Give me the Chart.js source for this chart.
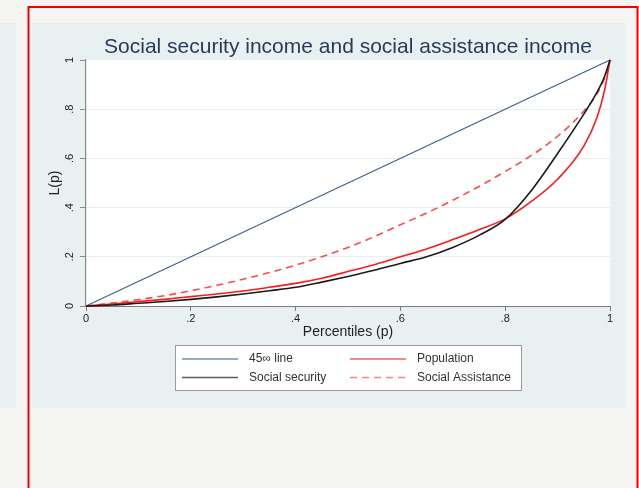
<!DOCTYPE html>
<html>
<head>
<meta charset="utf-8">
<title>Social security income and social assistance income</title>
<script src="https://cdn.jsdelivr.net/npm/chart.js@4.4.1/dist/chart.umd.min.js"></script>
<style>
    html, body {
        margin: 0;
        padding: 0;
        background: #f5f5f4;
    }
    canvas {
        display: block;
    }
</style>
</head>
<body>
<canvas id="lorenzChart" width="639" height="488"></canvas>
<script>
// Lorenz curves, L(p) read at each percentile p
const percentiles = [0, 0.05, 0.1, 0.15, 0.2, 0.25, 0.3, 0.35, 0.4, 0.45, 0.5, 0.55, 0.6, 0.65, 0.7, 0.75, 0.8, 0.85, 0.9, 0.95, 0.975, 0.99, 1];
const population = [0, 0.008, 0.018, 0.027, 0.038, 0.049, 0.061, 0.076, 0.092, 0.113, 0.14, 0.168, 0.2, 0.232, 0.27, 0.31, 0.354, 0.425, 0.515, 0.65, 0.765, 0.88, 1];
const socialSecurity = [0, 0.004, 0.011, 0.018, 0.027, 0.037, 0.049, 0.062, 0.076, 0.097, 0.12, 0.145, 0.173, 0.2, 0.238, 0.287, 0.352, 0.47, 0.62, 0.78, 0.868, 0.935, 1];
const socialAssistance = [0, 0.012, 0.026, 0.042, 0.062, 0.084, 0.109, 0.136, 0.166, 0.2, 0.238, 0.282, 0.33, 0.378, 0.43, 0.486, 0.547, 0.612, 0.69, 0.792, 0.862, 0.93, 1];

// 45 degree line of perfect equality
const equalityP = [0, 1];
const equalityL = [0, 1];

const tickValues = [0, 0.2, 0.4, 0.6, 0.8, 1];
const legendLabels = ['45∞ line', 'Population', 'Social security', 'Social Assistance'];

const chartTitle = 'Social security income and social assistance income';
const xTitle = 'Percentiles (p)';
const yTitle = 'L(p)';

const FONT = "'Liberation Sans', Arial, sans-serif";
const PANEL = '#e9f0f2';

Chart.defaults.font.family = FONT;
Chart.defaults.color = '#222';

function toPoints(xs, ys) {
    return xs.map((x, i) => ({ x, y: ys[i] }));
}

// Stata style tick label: 0 .2 .4 .6 .8 1
function stataLabel(value) {
    const v = Number(value.toFixed(1));
    return String(v).replace(/^0\./, '.');
}

const pagePlugin = {
    id: 'page',
    beforeDraw(chart) {
        const { ctx, chartArea } = chart;
        ctx.save();
        ctx.fillStyle = '#f5f5f4';
        ctx.fillRect(0, 0, chart.width, chart.height);

        // neighbouring graph panel cut off at the left
        ctx.fillStyle = PANEL;
        ctx.fillRect(0, 23, 16, 385);

        // graph region and white plot region
        ctx.fillStyle = PANEL;
        ctx.fillRect(32, 23, 594, 385);
        ctx.fillStyle = '#ffffff';
        ctx.fillRect(chartArea.left, chartArea.top, chartArea.right - chartArea.left, chartArea.bottom - chartArea.top);

        // red frame
        ctx.strokeStyle = '#f20000';
        ctx.lineWidth = 2;
        ctx.strokeRect(28.5, 7, 609, 490);
        ctx.restore();
    },
    afterDraw(chart) {
        const { ctx, chartArea, scales } = chart;
        ctx.save();

        // title
        ctx.fillStyle = '#2b3958';
        ctx.font = '21px ' + FONT;
        ctx.textAlign = 'center';
        ctx.textBaseline = 'middle';
        ctx.fillText(chartTitle, (chartArea.left + chartArea.right) / 2, 47);

        // vertical y tick labels
        ctx.fillStyle = '#222';
        ctx.font = '11px ' + FONT;
        scales.y.ticks.forEach((tick) => {
            const y = scales.y.getPixelForValue(tick.value);
            ctx.save();
            ctx.translate(70, y);
            ctx.rotate(-Math.PI / 2);
            ctx.fillText(stataLabel(tick.value), 0, 0);
            ctx.restore();
        });

        // legend box, two columns
        ctx.fillStyle = '#ffffff';
        ctx.fillRect(175.5, 345.5, 346, 45);
        ctx.strokeStyle = '#9a9a9a';
        ctx.lineWidth = 1;
        ctx.strokeRect(175.5, 345.5, 346, 45);

        const colLine = [182, 350];
        const colText = [249, 417];
        const rowY = [359, 377.5];
        ctx.font = '12px ' + FONT;
        ctx.textAlign = 'left';
        chart.data.datasets.forEach((ds, i) => {
            const col = i % 2;
            const row = Math.floor(i / 2);
            ctx.save();
            ctx.globalAlpha = 0.7;
            ctx.strokeStyle = ds.borderColor;
            ctx.lineWidth = Math.max(ds.borderWidth, 1.5);
            ctx.setLineDash(ds.borderDash || []);
            ctx.beginPath();
            ctx.moveTo(colLine[col], rowY[row]);
            ctx.lineTo(colLine[col] + 56, rowY[row]);
            ctx.stroke();
            ctx.restore();
            ctx.fillStyle = '#333';
            ctx.fillText(ds.label, colText[col], rowY[row]);
        });
        ctx.restore();
    },
};

const ctx = document.getElementById('lorenzChart');

new Chart(ctx, {
    type: 'line',
    data: {
        datasets: [
            {
                label: legendLabels[0],
                data: toPoints(equalityP, equalityL),
                borderColor: '#3f6089',
                borderWidth: 1.2,
                order: 4,
            },
            {
                label: legendLabels[1],
                data: toPoints(percentiles, population),
                borderColor: '#ff1a1a',
                borderWidth: 1.6,
                order: 2,
            },
            {
                label: legendLabels[2],
                data: toPoints(percentiles, socialSecurity),
                borderColor: '#1a1a1a',
                borderWidth: 1.6,
                order: 1,
            },
            {
                label: legendLabels[3],
                data: toPoints(percentiles, socialAssistance),
                borderColor: '#ff4a4a',
                borderWidth: 1.6,
                borderDash: [7, 5],
                order: 3,
            },
        ],
    },
    options: {
        responsive: false,
        animation: false,
        devicePixelRatio: 1,
        cubicInterpolationMode: 'monotone',
        pointRadius: 0,
        clip: 4,
        layout: {
            padding: { left: 33, top: 60, right: 29, bottom: 144 },
        },
        plugins: {
            legend: { display: false },
            title: { display: false },
            tooltip: { enabled: false },
        },
        scales: {
            x: {
                type: 'linear',
                min: 0,
                max: 1,
                afterBuildTicks(scale) {
                    scale.ticks = tickValues.map((value) => ({ value }));
                },
                afterFit(scale) {
                    scale.height = 38;
                },
                grid: {
                    drawOnChartArea: false,
                    drawTicks: true,
                    tickLength: 5,
                    tickColor: '#7a7a7a',
                },
                border: { color: '#7a7a7a', width: 1 },
                ticks: {
                    padding: 1,
                    maxRotation: 0,
                    font: { size: 11 },
                    color: '#222',
                    callback: (value) => stataLabel(value),
                },
                title: {
                    display: true,
                    text: xTitle,
                    font: { size: 14 },
                    color: '#222',
                    padding: { top: 0, bottom: 3.6 },
                },
            },
            y: {
                type: 'linear',
                min: 0,
                max: 1,
                afterBuildTicks(scale) {
                    scale.ticks = tickValues.map((value) => ({ value }));
                },
                afterFit(scale) {
                    scale.width = 53;
                },
                grid: {
                    drawTicks: true,
                    tickLength: 6,
                    tickColor: '#8a8a8a',
                    color: (c) => (c.tick && c.tick.value > 0 && c.tick.value < 1 ? '#e6eef0' : 'rgba(0,0,0,0)'),
                },
                border: { color: '#8a8a8a', width: 1.2 },
                ticks: { display: false },
                title: {
                    display: true,
                    text: yTitle,
                    font: { size: 14 },
                    color: '#222',
                    padding: { top: 13.6, bottom: 0 },
                },
            },
        },
    },
    plugins: [pagePlugin],
});
</script>
</body>
</html>
